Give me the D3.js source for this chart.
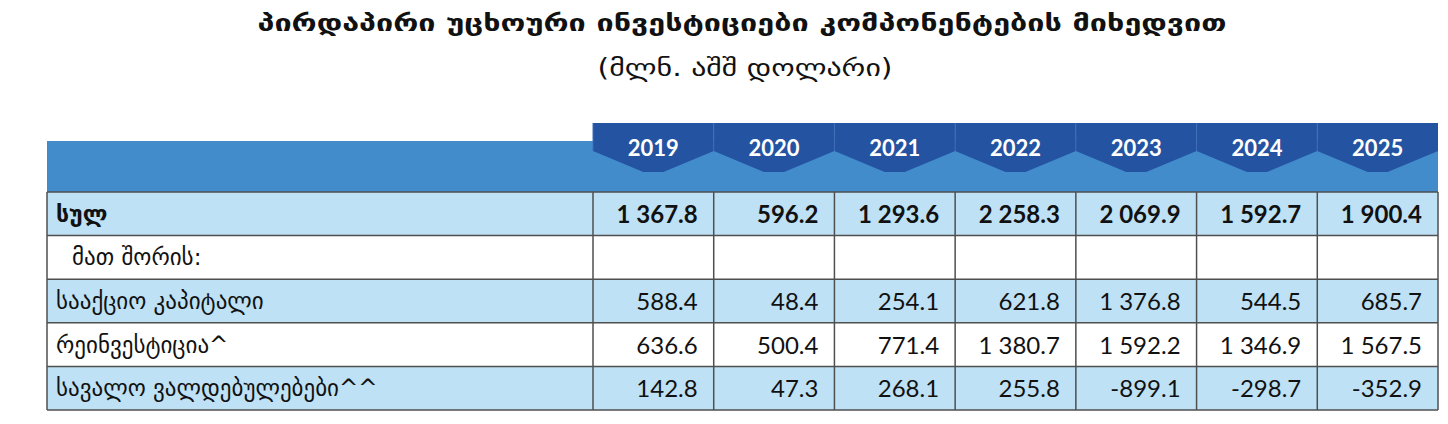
<!DOCTYPE html>
<html>
<head>
<meta charset="utf-8">
<script src="https://cdn.jsdelivr.net/npm/d3@7/dist/d3.min.js"></script>
<style>
  html, body { margin: 0; padding: 0; background: #fff; }
  svg { display: block; }
</style>
</head>
<body>
<svg id="chart" width="1448" height="424"></svg>
<script>
// ---- data ----
const title = "პირდაპირი უცხოური ინვესტიციები კომპონენტების მიხედვით";
const subtitle = "(მლნ. აშშ დოლარი)";
const years = ["2019", "2020", "2021", "2022", "2023", "2024", "2025"];
const rowLabels = ["სულ", "მათ შორის:", "სააქციო კაპიტალი", "რეინვესტიცია^", "სავალო ვალდებულებები^^"];
const totalValues = [1367.8, 596.2, 1293.6, 2258.3, 2069.9, 1592.7, 1900.4];
const equityValues = [588.4, 48.4, 254.1, 621.8, 1376.8, 544.5, 685.7];
const reinvestValues = [636.6, 500.4, 771.4, 1380.7, 1592.2, 1346.9, 1567.5];
const debtValues = [142.8, 47.3, 268.1, 255.8, -899.1, -298.7, -352.9];

const rowsData = [
  { label: rowLabels[0], values: totalValues, bold: true, fill: true, indent: false },
  { label: rowLabels[1], values: null, bold: false, fill: false, indent: true },
  { label: rowLabels[2], values: equityValues, bold: false, fill: true, indent: false },
  { label: rowLabels[3], values: reinvestValues, bold: false, fill: false, indent: false },
  { label: rowLabels[4], values: debtValues, bold: false, fill: true, indent: false }
];

// ---- layout ----
const left = 47, labelRight = 593, right = 1438;
const bandTop = 141, tableTop = 192, tableBottom = 410;
const tabTop = 123, tabSide = 151, tabPoint = 172, tabFlat = 10;

const C = {
  band: "#428CCC",
  tab: "#2453A1",
  light: "#BEE1F6",
  border: "#4F4F4F",
  text: "#111"
};

const fmt = d3.formatLocale({ decimal: ".", thousands: " ", grouping: [3], currency: ["", ""], minus: "-" }).format(",.1f");

const svg = d3.select("#chart");

const x = d3.scaleBand().domain(years).range([labelRight, right]).padding(0);
const y = d3.scaleBand().domain(rowLabels).range([tableTop, tableBottom]).padding(0);

// ---- title ----
svg.append("text")
  .attr("x", 742).attr("y", 31)
  .attr("text-anchor", "middle")
  .attr("font-family", "'DejaVu Sans', 'Noto Sans', sans-serif")
  .attr("font-weight", "bold")
  .attr("font-size", 24)
  .attr("textLength", 969)
  .attr("lengthAdjust", "spacingAndGlyphs")
  .attr("fill", "#111")
  .text(title);

svg.append("text")
  .attr("x", 745).attr("y", 76)
  .attr("text-anchor", "middle")
  .attr("font-family", "'DejaVu Sans', 'Noto Sans', sans-serif")
  .attr("font-size", 24)
  .attr("textLength", 295)
  .attr("lengthAdjust", "spacingAndGlyphs")
  .attr("fill", "#111")
  .text(subtitle);

// ---- header band ----
svg.append("rect")
  .attr("x", left).attr("y", bandTop)
  .attr("width", right - left).attr("height", tableTop - bandTop)
  .attr("fill", C.band);

// tabs
const tabs = svg.append("g").selectAll("g").data(years).join("g");
tabs.append("path")
  .attr("d", d => {
    const x0 = x(d), x1 = x(d) + x.bandwidth(), cx = (x0 + x1) / 2;
    return `M${x0},${tabTop} L${x1},${tabTop} L${x1},${tabSide} L${cx + tabFlat},${tabPoint} L${cx - tabFlat},${tabPoint} L${x0},${tabSide} Z`;
  })
  .attr("fill", C.tab);
tabs.append("line")
  .attr("x1", d => x(d)).attr("x2", d => x(d))
  .attr("y1", tabTop).attr("y2", tabSide)
  .attr("stroke", "#3F6FB8").attr("stroke-width", 1);
tabs.append("text")
  .attr("x", d => x(d) + x.bandwidth() / 2)
  .attr("y", 156)
  .attr("text-anchor", "middle")
  .attr("font-family", "Lato, 'Open Sans', sans-serif")
  .attr("font-size", 22)
  .attr("font-weight", "bold")
  .attr("fill", "#fff")
  .text(d => d);

// ---- rows ----
const rows = svg.append("g").selectAll("g").data(rowsData).join("g");
rows.append("rect")
  .attr("x", left).attr("y", d => y(d.label))
  .attr("width", right - left).attr("height", y.bandwidth())
  .attr("fill", d => d.fill ? C.light : "#fff");

rows.append("text")
  .attr("x", d => d.indent ? 72 : 56)
  .attr("y", d => y(d.label) + y.bandwidth() / 2 + 8)
  .attr("font-family", "'DejaVu Sans', 'Noto Sans', sans-serif")
  .attr("font-size", 23)
  .attr("font-weight", d => d.bold ? "bold" : "normal")
  .attr("fill", C.text)
  .text(d => d.label);

rows.each(function(r) {
  if (!r.values) return;
  d3.select(this).selectAll("text.v").data(r.values).join("text")
    .attr("class", "v")
    .attr("x", (v, i) => x(years[i]) + x.bandwidth() - 16)
    .attr("y", y(r.label) + y.bandwidth() / 2 + 9)
    .attr("text-anchor", "end")
    .attr("font-family", "Lato, 'Open Sans', sans-serif")
    .attr("font-size", 24)
    .attr("font-weight", r.bold ? "bold" : "normal")
    .attr("fill", C.text)
    .text(v => fmt(v));
});

// ---- borders ----
const grid = svg.append("g").attr("stroke", C.border).attr("stroke-width", 1.5).attr("fill", "none");
const hLines = rowLabels.map(l => y(l)).concat([tableBottom]);
grid.selectAll("line.h").data(hLines).join("line")
  .attr("class", "h")
  .attr("x1", left).attr("x2", right)
  .attr("y1", d => d).attr("y2", d => d);
const vLines = [left].concat(years.map(yr => x(yr))).concat([right]);
grid.selectAll("line.v").data(vLines).join("line")
  .attr("class", "v")
  .attr("x1", d => d).attr("x2", d => d)
  .attr("y1", tableTop).attr("y2", tableBottom);
</script>
</body>
</html>
